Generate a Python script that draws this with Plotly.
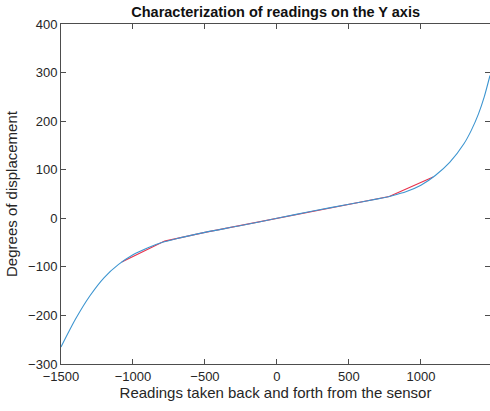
import plotly.graph_objects as go

# Fitted (blue) curve samples
fit_x = [-1500, -1400, -1300, -1200, -1100, -1000, -900, -800, -700, -500, -250,
         0, 250, 500, 700, 800, 900, 1000, 1100, 1200, 1300, 1350, 1400, 1440, 1480]
fit_y = [-265, -208, -160, -122, -95, -75, -61, -50, -42, -29, -15,
         0, 15, 29, 40, 46.5, 55, 68, 88, 115, 154, 181, 215, 250, 294]

# Measured (red) piecewise-linear readings
meas_x = [-1078, -780, -500, 0, 500, 780, 1085]
meas_y = [-90, -47, -29, 0, 29, 45, 85]

x_ticks = [-1500, -1000, -500, 0, 500, 1000]
y_ticks = [-300, -200, -100, 0, 100, 200, 300, 400]

fig = go.Figure()
fig.add_trace(go.Scatter(x=meas_x, y=meas_y, mode="lines",
                         line=dict(color="#E8304A", width=1.1), showlegend=False))
fig.add_trace(go.Scatter(x=fit_x, y=fit_y, mode="lines",
                         line=dict(color="#3D95D0", width=1.1, shape="spline", smoothing=0.7),
                         showlegend=False))

axis_common = dict(showgrid=False, zeroline=False, showline=True, linecolor="#4d4d4d",
                   linewidth=1, mirror="ticks", ticks="inside", ticklen=5,
                   tickcolor="#4d4d4d", tickfont=dict(family="Liberation Sans, Arial", size=13, color="#262626"))

fig.update_layout(
    width=490, height=411,
    margin=dict(l=61, r=0, t=24, b=47),
    paper_bgcolor="white", plot_bgcolor="white",
    title=dict(text="<b>Characterization of readings on the Y axis</b>",
               x=0.5625, xanchor="center", y=0.971, yanchor="middle",
               font=dict(family="Liberation Sans, Arial", size=14.5, color="#111")),
    xaxis=dict(range=[-1500, 1480], tickvals=x_ticks, **axis_common,
               title=dict(text="Readings taken back and forth from the sensor",
                          font=dict(family="Liberation Sans, Arial", size=15, color="#262626"),
                          standoff=4)),
    yaxis=dict(range=[-300, 400], tickvals=y_ticks, **axis_common,
               title=dict(text="Degrees of displacement",
                          font=dict(family="Liberation Sans, Arial", size=15, color="#262626"),
                          standoff=6)),
)

fig.write_html("out.html")
